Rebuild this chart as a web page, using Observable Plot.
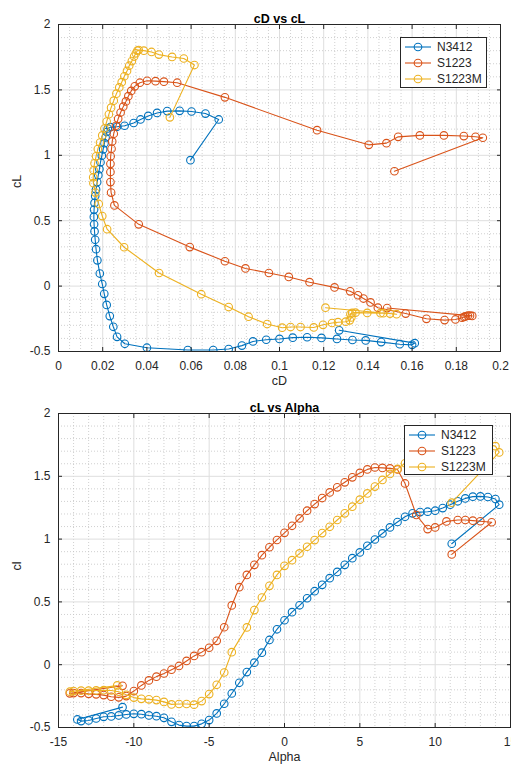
<!DOCTYPE html>
<html><head><meta charset="utf-8">
<script src="https://cdn.jsdelivr.net/npm/d3@7"></script>
<script src="https://cdn.jsdelivr.net/npm/@observablehq/plot@0.6"></script>
<style>
body{margin:0;background:#fff;font-family:"Liberation Sans",Arial,sans-serif;}
#wrap{position:relative;width:511px;height:768px;overflow:hidden;}
#wrap svg{display:block;}
.legend{position:absolute;background:#fff;border:1px solid #262626;font-size:12px;color:#262626;box-sizing:border-box;}
.legend .row{display:flex;align-items:center;height:16px;}
</style></head><body><div id="wrap"></div>
<script>
// ---- Series names & colours
const seriesNames = ["N3412", "S1223", "S1223M"];
const seriesColors = ["#0072BD", "#D95319", "#EDB120"];

// ---- N3412
const n3412Alpha = [-10.75,-13.75,-13.5,-13,-12.5,-12,-11.5,-11,-10.5,-10,-9.5,-9,-8.5,-8,-7.5,-7,-6.5,-6,-5.5,-5,-4.5,-4,-3.5,-3,-2.5,-2,-1.5,-1,-0.5,0,0.5,1,1.5,2,2.5,3,3.5,4,4.5,5,5.5,6,6.5,7,7.5,8,8.5,9,9.5,10,10.5,11,11.5,12,12.5,13,13.5,14,14.25,11.1];
const n3412CL = [-0.338,-0.436,-0.449,-0.444,-0.428,-0.415,-0.412,-0.404,-0.396,-0.391,-0.394,-0.404,-0.41,-0.423,-0.455,-0.481,-0.489,-0.489,-0.471,-0.441,-0.388,-0.311,-0.229,-0.144,-0.059,0.016,0.096,0.197,0.282,0.354,0.418,0.473,0.529,0.585,0.636,0.689,0.739,0.795,0.848,0.894,0.947,0.997,1.045,1.093,1.136,1.178,1.205,1.215,1.218,1.226,1.247,1.274,1.301,1.324,1.338,1.340,1.335,1.319,1.274,0.963];
const n3412CD = [0.127,0.1612,0.1600,0.1544,0.1460,0.1390,0.1330,0.1260,0.1190,0.1125,0.1060,0.1000,0.0940,0.0880,0.0830,0.0770,0.0700,0.0585,0.0400,0.0300,0.0265,0.0248,0.0232,0.0218,0.0207,0.0198,0.0187,0.0176,0.0170,0.0166,0.0163,0.0161,0.0160,0.0161,0.0163,0.0166,0.0170,0.0175,0.0180,0.0185,0.0190,0.0196,0.0202,0.0208,0.0213,0.0218,0.0223,0.0235,0.0265,0.0299,0.0340,0.0371,0.0406,0.0446,0.0492,0.0548,0.0602,0.0665,0.0725,0.0597];

// ---- S1223
const s1223Alpha = [-10.75,-14.25,-14,-13.5,-13,-12.5,-12,-11.5,-11,-10.5,-10,-9.5,-9,-8.5,-8,-7.5,-7,-6.5,-6,-5.5,-5,-4.5,-4,-3.5,-3,-2.5,-2,-1.5,-1,-0.5,0,0.5,1,1.5,2,2.5,3,3.5,4,4.5,5,5.5,6,6.5,7,7.5,8,8.75,9.5,10,10.75,11.5,12,12.5,13,13.75,11.1];
const s1223CL = [-0.168,-0.228,-0.226,-0.226,-0.232,-0.236,-0.242,-0.255,-0.26,-0.25,-0.21,-0.165,-0.125,-0.095,-0.07,-0.04,-0.01,0.03,0.07,0.10,0.135,0.19,0.298,0.472,0.617,0.715,0.795,0.872,0.935,0.993,1.05,1.106,1.165,1.226,1.279,1.327,1.372,1.412,1.452,1.492,1.527,1.555,1.57,1.567,1.563,1.555,1.443,1.192,1.08,1.093,1.141,1.152,1.152,1.147,1.142,1.134,0.878];
const s1223CD = [0.1487,0.1872,0.1862,0.1852,0.1842,0.1835,0.1826,0.1796,0.1747,0.1665,0.1571,0.1445,0.1412,0.1380,0.1355,0.1320,0.1249,0.1136,0.1042,0.0952,0.0846,0.0753,0.0594,0.0363,0.0253,0.0238,0.0235,0.0235,0.0235,0.0236,0.0240,0.0243,0.0250,0.0260,0.0270,0.0281,0.0293,0.0305,0.0316,0.0329,0.0345,0.0368,0.0401,0.0439,0.0477,0.0537,0.0753,0.1170,0.1404,0.1484,0.1537,0.1635,0.1744,0.1834,0.1887,0.1920,0.1520];

// ---- S1223M
const s1223mAlpha = [-11.1,-14.25,-14,-13.5,-13,-12.5,-12,-11.5,-11,-10.5,-10,-9.5,-9,-8.5,-8,-7.5,-7,-6.5,-6,-5.5,-5,-4.5,-4,-3.5,-2.5,-2,-1.5,-1,-0.5,0,0.5,1,1.5,2,2.5,3,3.5,4,4.5,5,5.5,6,6.5,7,7.5,8,8.5,9,9.5,10,10.5,11,11.5,12,12.5,13,13.5,14,14.25,11.1];
const s1223mCL = [-0.165,-0.215,-0.21,-0.207,-0.207,-0.205,-0.203,-0.205,-0.215,-0.24,-0.262,-0.272,-0.276,-0.282,-0.296,-0.316,-0.313,-0.313,-0.318,-0.29,-0.234,-0.16,-0.062,0.10,0.297,0.435,0.535,0.628,0.715,0.787,0.832,0.886,0.939,0.992,1.048,1.098,1.152,1.205,1.258,1.314,1.364,1.418,1.471,1.519,1.559,1.604,1.645,1.685,1.72,1.755,1.78,1.80,1.805,1.80,1.79,1.77,1.752,1.74,1.69,1.29];
const s1223mCD = [0.1208,0.1530,0.1500,0.1470,0.1457,0.1397,0.1344,0.1329,0.1321,0.1325,0.1318,0.1300,0.1265,0.1238,0.1197,0.1155,0.1095,0.1050,0.1012,0.0944,0.0860,0.0770,0.0646,0.0455,0.0297,0.0220,0.0198,0.0182,0.0167,0.0158,0.0157,0.0159,0.0163,0.0170,0.0178,0.0188,0.0198,0.0208,0.0218,0.0228,0.0238,0.0250,0.0262,0.0275,0.0286,0.0298,0.0310,0.0320,0.0332,0.0342,0.0350,0.0357,0.0363,0.0386,0.0421,0.0454,0.0514,0.0567,0.0615,0.0504];

// ---- Tick labels
const cdTicks = [0,0.02,0.04,0.06,0.08,0.1,0.12,0.14,0.16,0.18,0.2];
const clTicks = [-0.5,0,0.5,1,1.5,2];
const alphaTicks = [-15,-10,-5,0,5,10,15];

// ---- Build tables
const seriesList = [
  {name: seriesNames[0], alpha: n3412Alpha, cl: n3412CL, cd: n3412CD},
  {name: seriesNames[1], alpha: s1223Alpha, cl: s1223CL, cd: s1223CD},
  {name: seriesNames[2], alpha: s1223mAlpha, cl: s1223mCL, cd: s1223mCD}
];
const tables = seriesList.map(s => s.alpha.map((a, i) => ({name: s.name, alpha: a, cl: s.cl[i], cd: s.cd[i]})));

const fmt = d => String(+d.toFixed(3));
const TXT = "#262626";
const GRID = "#dedede";
const MINOR = "#c4c4c4";

// minor grid positions (subdivisions of major tick spacing)
function minorOf(ticks, n) {
  const out = [];
  for (let i = 0; i < ticks.length - 1; i++) {
    const a = ticks[i], b = ticks[i+1];
    for (let k = 1; k < n; k++) out.push(a + (b - a) * k / n);
  }
  return out;
}

function makePlot({xKey, yKey, xTicks, yTicks, xMinorN, yMinorN, height, marginTop, marginBottom, marginRight, title, xLabel, yLabel}) {
  const marks = [
    Plot.ruleX(minorOf(xTicks, xMinorN), {stroke: MINOR, strokeDasharray: "1,2", strokeWidth: 0.8}),
    Plot.ruleY(minorOf(yTicks, yMinorN), {stroke: MINOR, strokeDasharray: "1,2", strokeWidth: 0.8}),
    Plot.ruleX(xTicks, {stroke: GRID, strokeWidth: 1}),
    Plot.ruleY(yTicks, {stroke: GRID, strokeWidth: 1})
  ];
  tables.forEach((t, i) => {
    marks.push(Plot.line(t, {x: xKey, y: yKey, stroke: seriesColors[i], strokeWidth: 1.1, curve: "linear", clip: true}));
    marks.push(Plot.dot(t, {x: xKey, y: yKey, stroke: seriesColors[i], fill: "none", r: 3.8, strokeWidth: 1.1, clip: true}));
  });
  marks.push(
    Plot.frame({stroke: "#262626", strokeWidth: 1}),
    Plot.axisX(xTicks, {anchor: "bottom", label: null, tickSize: -4, tickPadding: 14, tickFormat: fmt, fontSize: 12}),
    Plot.axisX(xTicks, {anchor: "top", label: null, tickSize: -4, tickFormat: () => ""}),
    Plot.axisY(yTicks, {anchor: "left", label: null, tickSize: -4, tickPadding: 12, tickFormat: fmt, fontSize: 12}),
    Plot.axisY(yTicks, {anchor: "right", label: null, tickSize: -4, tickFormat: () => ""}),
    Plot.text([title], {frameAnchor: "top", dy: -10, fontWeight: "bold", fontSize: 12.5, fill: "#000"}),
    Plot.text([xLabel], {frameAnchor: "bottom", dy: 33, fontSize: 12.5, fill: TXT}),
    Plot.text([yLabel], {frameAnchor: "left", dx: -42, rotate: -90, fontSize: 12.5, fill: TXT})
  );
  return Plot.plot({
    width: 511, height, marginLeft: 58, marginRight, marginTop, marginBottom,
    style: {fontFamily: "'Liberation Sans', Arial, sans-serif", fontSize: "12px", color: TXT, background: "#fff", overflow: "visible"},
    x: {domain: [xTicks[0], xTicks[xTicks.length - 1]], label: null},
    y: {domain: [yTicks[0], yTicks[yTicks.length - 1]], label: null},
    marks
  });
}

const wrap = document.getElementById("wrap");
const topPlot = makePlot({xKey: "cd", yKey: "cl", xTicks: cdTicks, yTicks: clTicks, xMinorN: 4, yMinorN: 5,
  height: 392, marginTop: 24, marginBottom: 41, marginRight: 11, title: "cD vs cL", xLabel: "cD", yLabel: "cL"});
const botPlot = makePlot({xKey: "alpha", yKey: "cl", xTicks: alphaTicks, yTicks: clTicks, xMinorN: 5, yMinorN: 5,
  height: 376, marginTop: 21, marginBottom: 41, marginRight: 1, title: "cL vs Alpha", xLabel: "Alpha", yLabel: "cl"});
wrap.appendChild(topPlot);
wrap.appendChild(botPlot);

// ---- Legends (MATLAB-style boxes)
function addLegend(left, top, width, height) {
  const box = document.createElement("div");
  box.className = "legend";
  Object.assign(box.style, {left: left + "px", top: top + "px", width: width + "px", height: height + "px", paddingTop: "1px"});
  seriesNames.forEach((n, i) => {
    const row = document.createElement("div");
    row.className = "row";
    const svg = d3.create("svg").attr("width", 34).attr("height", 16);
    svg.append("line").attr("x1", 4).attr("x2", 30).attr("y1", 8).attr("y2", 8).attr("stroke", seriesColors[i]).attr("stroke-width", 1.1);
    svg.append("circle").attr("cx", 17).attr("cy", 8).attr("r", 3.8).attr("fill", "none").attr("stroke", seriesColors[i]).attr("stroke-width", 1.1);
    row.appendChild(svg.node());
    const sp = document.createElement("span");
    sp.textContent = n;
    sp.style.marginLeft = "2px";
    row.appendChild(sp);
    box.appendChild(row);
  });
  wrap.appendChild(box);
}
addLegend(400, 37, 87, 51);
addLegend(404, 425, 89, 50);
</script></body></html>
